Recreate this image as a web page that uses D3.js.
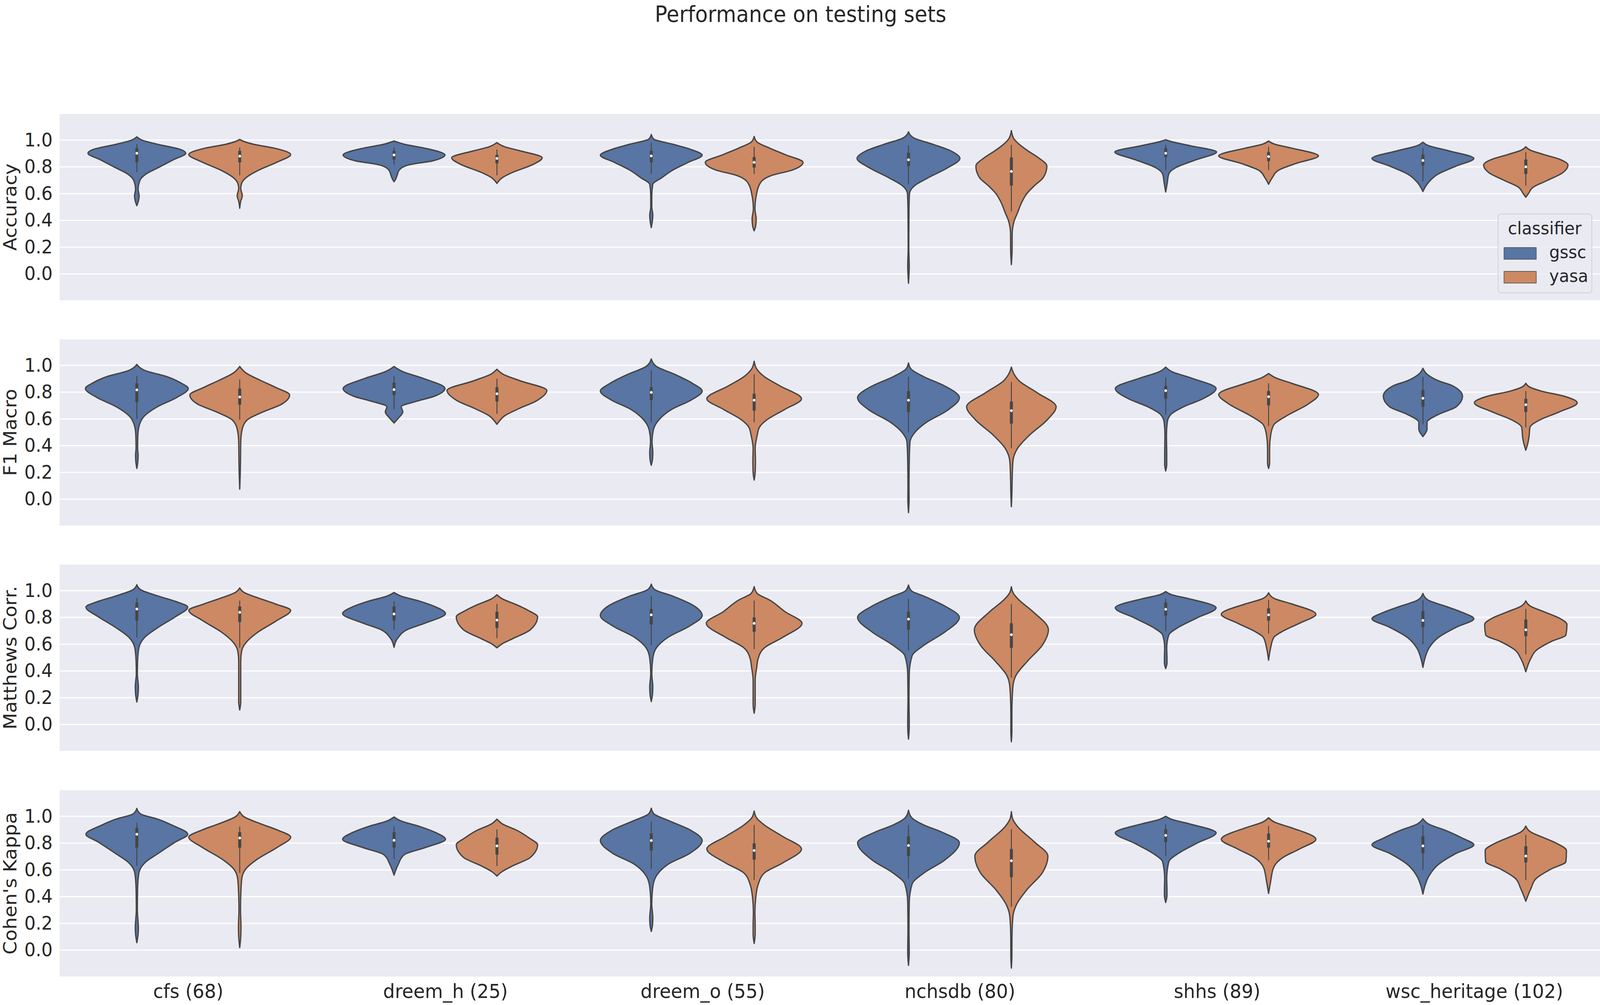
<!DOCTYPE html>
<html>
<head>
<meta charset="utf-8">
<script src="https://cdn.jsdelivr.net/npm/d3@7/dist/d3.min.js"></script>
<style>
  html, body { margin: 0; padding: 0; background: #ffffff; width: 100vw; height: 100vh; overflow: hidden; }
  #chart { display: block; width: 100vw; height: 100vh; }
  text { font-family: "DejaVu Sans", sans-serif; fill: #262626; }
</style>
</head>
<body>
<svg id="chart" viewBox="0 0 4317 2574" preserveAspectRatio="none"></svg>
<script>
// ---------------- DATA ----------------
const categories = ["cfs (68)", "dreem_h (25)", "dreem_o (55)", "nchsdb (80)", "shhs (89)", "wsc_heritage (102)"];
const classifiers = ["gssc", "yasa"];
const metrics = ["Accuracy", "F1 Macro", "Matthews Corr.", "Cohen's Kappa"];
const yTicks = [0.0, 0.2, 0.4, 0.6, 0.8, 1.0];
const chartTitle = "Performance on testing sets";
const legendTitle = "classifier";

// Violin outlines: [value, relative half-width]; order per dataset: gssc, yasa
const accuracyShapes = [
  [[0.51,0],[0.545,0.03],[0.583,0.045],[0.631,0.025],[0.699,0.06],[0.747,0.18],[0.795,0.42],[0.853,0.71],[0.902,0.95],[0.93,0.85],[0.969,0.40],[1.0,0.10],[1.024,0]],
  [[0.491,0],[0.544,0.02],[0.583,0.05],[0.64,0.02],[0.68,0.04],[0.718,0.12],[0.776,0.37],[0.834,0.72],[0.892,0.99],[0.94,0.67],[0.969,0.27],[0.99,0.08],[1.005,0]],
  [[0.689,0],[0.70,0.02],[0.737,0.06],[0.776,0.1],[0.816,0.3],[0.845,0.75],[0.889,0.99],[0.94,0.59],[0.969,0.2],[0.993,0]],
  [[0.676,0],[0.718,0.1],[0.758,0.3],[0.816,0.69],[0.868,0.88],[0.92,0.45],[0.95,0.15],[0.981,0]],
  [[0.346,0],[0.39,0.02],[0.44,0.03],[0.5,0.01],[0.583,0.01],[0.67,0.03],[0.718,0.2],[0.776,0.42],[0.834,0.72],[0.887,0.99],[0.93,0.77],[0.969,0.42],[1.007,0.05],[1.042,0]],
  [[0.322,0],[0.36,0.03],[0.41,0.04],[0.486,0.015],[0.583,0.04],[0.68,0.12],[0.737,0.35],[0.776,0.74],[0.834,0.95],[0.892,0.6],[0.94,0.3],[0.988,0.05],[1.027,0]],
  [[-0.07,0],[0.0,0.01],[0.05,0.015],[0.196,0.006],[0.483,0.01],[0.6,0.02],[0.66,0.12],[0.718,0.38],[0.795,0.77],[0.863,1.0],[0.92,0.82],[0.969,0.47],[1.017,0.1],[1.061,0]],
  [[0.07,0],[0.196,0.015],[0.29,0.015],[0.39,0.05],[0.457,0.12],[0.534,0.2],[0.6,0.3],[0.66,0.45],[0.72,0.62],[0.805,0.69],[0.87,0.52],[0.92,0.32],[0.969,0.15],[1.01,0.05],[1.07,0]],
  [[0.612,0],[0.68,0.03],[0.747,0.06],[0.795,0.2],[0.853,0.59],[0.911,0.99],[0.96,0.45],[0.99,0.1],[1.003,0]],
  [[0.67,0],[0.718,0.07],[0.776,0.2],[0.824,0.52],[0.882,0.97],[0.94,0.45],[0.969,0.12],[0.993,0]],
  [[0.616,0],[0.68,0.1],[0.747,0.3],[0.805,0.64],[0.863,0.99],[0.92,0.5],[0.96,0.1],[0.984,0]],
  [[0.573,0],[0.6,0.05],[0.65,0.15],[0.699,0.42],[0.757,0.72],[0.814,0.82],[0.855,0.67],[0.892,0.35],[0.926,0.08],[0.95,0]]
];
const f1Shapes = [
  [[0.23,0],[0.283,0.02],[0.33,0.025],[0.38,0.015],[0.478,0.02],[0.555,0.05],[0.623,0.15],[0.691,0.4],[0.759,0.77],[0.827,1.0],[0.87,0.85],[0.915,0.59],[0.963,0.15],[1.007,0]],
  [[0.075,0],[0.186,0.01],[0.283,0.015],[0.429,0.02],[0.526,0.05],[0.594,0.15],[0.652,0.45],[0.711,0.82],[0.779,0.97],[0.835,0.7],[0.885,0.42],[0.944,0.12],[0.992,0]],
  [[0.57,0],[0.604,0.08],[0.652,0.17],[0.691,0.14],[0.73,0.42],[0.769,0.78],[0.827,0.99],[0.905,0.55],[0.953,0.17],[0.992,0]],
  [[0.56,0],[0.585,0.05],[0.623,0.15],[0.672,0.4],[0.74,0.79],[0.813,0.97],[0.885,0.45],[0.934,0.12],[0.971,0]],
  [[0.254,0],[0.30,0.025],[0.351,0.03],[0.429,0.015],[0.517,0.04],[0.594,0.15],[0.672,0.4],[0.74,0.77],[0.808,0.99],[0.866,0.8],[0.934,0.45],[0.992,0.1],[1.048,0]],
  [[0.143,0],[0.2,0.02],[0.283,0.025],[0.38,0.02],[0.478,0.06],[0.536,0.1],[0.594,0.25],[0.672,0.6],[0.75,0.92],[0.847,0.5],[0.915,0.2],[0.973,0.05],[1.031,0]],
  [[-0.1,0],[0.0,0.012],[0.089,0.01],[0.283,0.015],[0.429,0.03],[0.497,0.12],[0.575,0.35],[0.662,0.75],[0.759,0.99],[0.847,0.7],[0.915,0.3],[0.973,0.05],[1.018,0]],
  [[-0.056,0],[0.041,0.01],[0.138,0.015],[0.283,0.03],[0.38,0.12],[0.478,0.35],[0.594,0.7],[0.691,0.87],[0.796,0.5],[0.885,0.15],[0.944,0.04],[0.987,0]],
  [[0.211,0],[0.26,0.02],[0.332,0.02],[0.478,0.015],[0.575,0.03],[0.633,0.1],[0.691,0.35],[0.75,0.72],[0.827,0.98],[0.905,0.5],[0.953,0.12],[0.987,0]],
  [[0.23,0],[0.27,0.02],[0.303,0.02],[0.38,0.02],[0.478,0.04],[0.555,0.1],[0.623,0.35],[0.711,0.77],[0.783,0.97],[0.866,0.45],[0.905,0.15],[0.939,0]],
  [[0.468,0],[0.526,0.08],[0.575,0.08],[0.633,0.3],[0.691,0.65],[0.769,0.77],[0.847,0.58],[0.885,0.3],[0.934,0.08],[0.978,0]],
  [[0.366,0],[0.419,0.04],[0.458,0.06],[0.536,0.08],[0.594,0.28],[0.652,0.65],[0.72,1.0],[0.769,0.75],[0.808,0.3],[0.837,0.08],[0.866,0]]
];
const mccShapes = [
  [[0.168,0],[0.23,0.025],[0.282,0.03],[0.379,0.01],[0.476,0.015],[0.573,0.04],[0.65,0.15],[0.727,0.42],[0.805,0.75],[0.877,0.99],[0.92,0.75],[0.959,0.42],[1.008,0.07],[1.044,0]],
  [[0.108,0],[0.17,0.02],[0.234,0.02],[0.379,0.02],[0.476,0.02],[0.553,0.04],[0.611,0.12],[0.689,0.35],[0.776,0.72],[0.853,0.99],[0.9,0.7],[0.94,0.4],[0.988,0.08],[1.02,0]],
  [[0.577,0],[0.65,0.08],[0.708,0.25],[0.757,0.6],[0.829,1.0],[0.88,0.8],[0.921,0.5],[0.959,0.14],[0.986,0]],
  [[0.573,0],[0.602,0.1],[0.64,0.3],[0.708,0.65],[0.805,0.79],[0.85,0.62],[0.892,0.4],[0.94,0.1],[0.969,0]],
  [[0.171,0],[0.23,0.025],[0.282,0.03],[0.379,0.01],[0.495,0.03],[0.573,0.1],[0.65,0.32],[0.737,0.75],[0.814,0.99],[0.882,0.85],[0.959,0.42],[1.008,0.07],[1.049,0]],
  [[0.084,0],[0.15,0.02],[0.234,0.02],[0.33,0.02],[0.427,0.05],[0.495,0.08],[0.573,0.2],[0.65,0.55],[0.756,0.93],[0.843,0.6],[0.93,0.3],[0.979,0.06],[1.03,0]],
  [[-0.109,0],[-0.05,0.012],[0.012,0.015],[0.186,0.01],[0.379,0.015],[0.513,0.07],[0.592,0.3],[0.689,0.7],[0.8,0.99],[0.882,0.72],[0.959,0.3],[0.998,0.06],[1.042,0]],
  [[-0.129,0],[-0.05,0.01],[0.089,0.01],[0.282,0.03],[0.36,0.08],[0.476,0.32],[0.592,0.6],[0.708,0.72],[0.843,0.42],[0.93,0.15],[0.979,0.04],[1.029,0]],
  [[0.418,0],[0.46,0.025],[0.495,0.025],[0.573,0.02],[0.669,0.06],[0.727,0.25],[0.795,0.6],[0.872,0.98],[0.94,0.45],[0.969,0.12],[0.993,0]],
  [[0.481,0],[0.573,0.04],[0.65,0.1],[0.698,0.28],[0.756,0.6],[0.824,0.92],[0.901,0.45],[0.94,0.12],[0.984,0]],
  [[0.427,0],[0.495,0.04],[0.573,0.12],[0.65,0.3],[0.727,0.65],[0.79,0.99],[0.84,0.75],[0.882,0.45],[0.93,0.1],[0.979,0]],
  [[0.394,0],[0.495,0.1],[0.553,0.2],[0.621,0.5],[0.669,0.78],[0.747,0.8],[0.795,0.65],[0.843,0.35],[0.882,0.1],[0.923,0]]
];
const kappaShapes = [
  [[0.056,0],[0.12,0.025],[0.166,0.03],[0.303,0.01],[0.461,0.015],[0.577,0.04],[0.651,0.15],[0.724,0.42],[0.808,0.75],[0.866,0.99],[0.935,0.68],[0.977,0.42],[1.019,0.07],[1.059,0]],
  [[0.019,0],[0.1,0.02],[0.177,0.025],[0.303,0.015],[0.408,0.02],[0.535,0.04],[0.608,0.12],[0.682,0.35],[0.766,0.72],[0.845,0.99],[0.9,0.72],[0.945,0.4],[0.998,0.08],[1.035,0]],
  [[0.561,0],[0.64,0.08],[0.714,0.2],[0.766,0.6],[0.829,1.0],[0.88,0.8],[0.924,0.5],[0.966,0.13],[0.995,0]],
  [[0.554,0],[0.587,0.1],[0.629,0.3],[0.693,0.65],[0.787,0.79],[0.84,0.62],[0.893,0.4],[0.945,0.1],[0.979,0]],
  [[0.14,0],[0.19,0.025],[0.24,0.03],[0.345,0.01],[0.472,0.03],[0.556,0.1],[0.64,0.32],[0.724,0.75],[0.819,0.99],[0.893,0.78],[0.966,0.35],[1.019,0.05],[1.061,0]],
  [[0.05,0],[0.12,0.02],[0.187,0.02],[0.282,0.015],[0.387,0.03],[0.493,0.08],[0.577,0.2],[0.651,0.55],[0.756,0.92],[0.851,0.55],[0.935,0.2],[0.987,0.05],[1.04,0]],
  [[-0.113,0],[-0.05,0.012],[-0.013,0.015],[0.145,0.01],[0.356,0.015],[0.493,0.07],[0.577,0.3],[0.672,0.7],[0.803,0.99],[0.882,0.65],[0.935,0.3],[0.987,0.07],[1.045,0]],
  [[-0.134,0],[-0.05,0.01],[0.093,0.012],[0.251,0.03],[0.324,0.08],[0.451,0.3],[0.577,0.6],[0.703,0.71],[0.808,0.45],[0.924,0.12],[0.977,0.03],[1.035,0]],
  [[0.356,0],[0.41,0.025],[0.451,0.025],[0.535,0.02],[0.661,0.06],[0.724,0.25],[0.798,0.6],[0.877,0.98],[0.945,0.45],[0.977,0.12],[1.0,0]],
  [[0.424,0],[0.514,0.04],[0.619,0.1],[0.693,0.28],[0.756,0.6],[0.829,0.92],[0.914,0.45],[0.956,0.12],[0.989,0]],
  [[0.419,0],[0.482,0.04],[0.556,0.12],[0.64,0.3],[0.724,0.65],[0.787,0.99],[0.84,0.75],[0.893,0.45],[0.945,0.1],[0.982,0]],
  [[0.366,0],[0.461,0.1],[0.535,0.2],[0.608,0.5],[0.661,0.78],[0.745,0.79],[0.798,0.6],[0.84,0.35],[0.882,0.1],[0.927,0]]
];

// Inner boxes: [whisker low, q1, median, q3, whisker high]
const accuracyBoxes = [
  [0.76,0.834,0.902,0.94,0.97],[0.737,0.834,0.88,0.92,0.945],
  [0.816,0.855,0.889,0.92,0.945],[0.737,0.826,0.863,0.89,0.93],
  [0.747,0.834,0.882,0.92,0.979],[0.747,0.795,0.834,0.873,0.95],
  [0.67,0.805,0.853,0.906,0.959],[0.467,0.66,0.766,0.87,0.964],
  [0.776,0.873,0.902,0.94,0.964],[0.776,0.843,0.877,0.911,0.95],
  [0.69,0.81,0.848,0.892,0.94],[0.66,0.747,0.8,0.855,0.911]
];
const f1Boxes = [
  [0.60,0.725,0.817,0.866,0.92],[0.594,0.706,0.764,0.827,0.895],
  [0.672,0.779,0.819,0.871,0.919],[0.638,0.73,0.788,0.837,0.9],
  [0.575,0.74,0.798,0.837,0.963],[0.575,0.662,0.74,0.788,0.934],
  [0.497,0.652,0.74,0.808,0.915],[0.38,0.565,0.662,0.73,0.876],
  [0.633,0.75,0.811,0.847,0.91],[0.546,0.701,0.766,0.808,0.866],
  [0.56,0.691,0.754,0.817,0.915],[0.536,0.652,0.706,0.75,0.808]
];
const mccBoxes = [
  [0.65,0.776,0.863,0.911,0.945],[0.573,0.766,0.838,0.882,0.926],
  [0.708,0.776,0.826,0.882,0.921],[0.645,0.722,0.78,0.843,0.901],
  [0.592,0.747,0.819,0.863,0.959],[0.563,0.693,0.756,0.8,0.926],
  [0.553,0.708,0.787,0.843,0.94],[0.35,0.573,0.671,0.756,0.901],
  [0.698,0.814,0.861,0.911,0.94],[0.679,0.776,0.819,0.868,0.93],
  [0.602,0.727,0.778,0.847,0.93],[0.524,0.66,0.708,0.785,0.863]
];
const kappaBoxes = [
  [0.629,0.766,0.866,0.914,0.951],[0.577,0.766,0.838,0.882,0.924],
  [0.682,0.766,0.821,0.882,0.924],[0.629,0.714,0.779,0.84,0.903],
  [0.608,0.745,0.819,0.872,0.961],[0.524,0.677,0.745,0.798,0.935],
  [0.535,0.703,0.782,0.851,0.935],[0.324,0.545,0.668,0.756,0.903],
  [0.703,0.808,0.858,0.903,0.94],[0.672,0.766,0.814,0.872,0.929],
  [0.598,0.724,0.779,0.851,0.935],[0.524,0.656,0.703,0.777,0.861]
];

const metricShapes = [accuracyShapes, f1Shapes, mccShapes, kappaShapes];
const metricBoxes = [accuracyBoxes, f1Boxes, mccBoxes, kappaBoxes];

// ---------------- STYLE / LAYOUT ----------------
const W = 4317, H = 2574;
const colors = ["#5875A3", "#CC8963"];
const edgeColor = "#454545";
const panelBg = "#EAEAF2";
const axLeft = 161, axRight = 4325;
const panelTops = [292, 869, 1446, 2024];
const panelH = 477;
const lw = 3.5;

const svg = d3.select("#chart");
svg.append("rect").attr("width", W).attr("height", H).attr("fill", "#ffffff");

const x = d3.scaleBand().domain(categories).range([axLeft, axRight]).paddingInner(0).paddingOuter(0);
const hue = d3.scaleBand().domain(classifiers).range([0.1 * x.bandwidth(), 0.9 * x.bandwidth()]);
const halfMax = hue.bandwidth() / 2;
const wScale = d3.scaleLinear().domain([0, 1]).range([0, halfMax]);

svg.append("defs").append("clipPath").attr("id", "figclip")
  .append("rect").attr("x", 0).attr("y", 0).attr("width", W).attr("height", H);

// title
svg.append("text").attr("x", 2160).attr("y", 56).attr("text-anchor", "middle")
  .style("font-size", "56px").text(chartTitle);

metrics.forEach((metric, mi) => {
  const top = panelTops[mi];
  const y = d3.scaleLinear().domain([-0.197, 1.195]).range([top + panelH, top]);
  const g = svg.append("g").attr("clip-path", "url(#figclip)");

  g.append("rect").attr("x", axLeft).attr("y", top).attr("width", axRight - axLeft).attr("height", panelH)
    .attr("fill", panelBg);

  // gridlines
  g.selectAll("line.grid").data(yTicks).enter().append("line")
    .attr("x1", axLeft).attr("x2", axRight)
    .attr("y1", d => y(d)).attr("y2", d => y(d))
    .attr("stroke", "#ffffff").attr("stroke-width", 3);

  // y axis
  const yAxis = d3.axisLeft(y).tickValues(yTicks).tickFormat(d3.format(".1f")).tickSize(0).tickPadding(19);
  const ya = svg.append("g").attr("transform", `translate(${axLeft},0)`).call(yAxis);
  ya.select(".domain").remove();
  ya.selectAll("text").style("font-size", "48px").style("font-family", "DejaVu Sans").attr("fill", "#262626");

  // y label
  svg.append("text")
    .attr("transform", `translate(44,${top + panelH / 2}) rotate(-90)`)
    .attr("text-anchor", "middle").style("font-size", "49px").text(metric);

  // violins
  const shapes = metricShapes[mi], boxes = metricBoxes[mi];
  categories.forEach((cat, ci) => {
    classifiers.forEach((cl, hi) => {
      const idx = ci * 2 + hi;
      const cx = x(cat) + hue(cl) + hue.bandwidth() / 2;
      const knots = shapes[idx];
      const area = d3.area()
        .y(d => y(d[0]))
        .x0(d => cx - wScale(d[1]))
        .x1(d => cx + wScale(d[1]))
        .curve(d3.curveMonotoneY);
      g.append("path").datum(knots).attr("d", area)
        .attr("fill", colors[hi]).attr("stroke", edgeColor).attr("stroke-width", lw)
        .attr("stroke-linejoin", "round");
      const b = boxes[idx];
      g.append("line").attr("x1", cx).attr("x2", cx).attr("y1", y(b[0])).attr("y2", y(b[4]))
        .attr("stroke", edgeColor).attr("stroke-width", 2.5);
      g.append("line").attr("x1", cx).attr("x2", cx).attr("y1", y(b[1])).attr("y2", y(b[3]))
        .attr("stroke", edgeColor).attr("stroke-width", 8);
      g.append("circle").attr("cx", cx).attr("cy", y(b[2])).attr("r", 3.5).attr("fill", "#ffffff");
    });
  });

  // x axis on bottom panel only
  if (mi === metrics.length - 1) {
    const xa = svg.append("g").attr("transform", `translate(0,${top + panelH})`)
      .call(d3.axisBottom(x).tickSize(0).tickPadding(20));
    xa.select(".domain").remove();
    xa.selectAll("text").style("font-size", "50px").style("font-family", "DejaVu Sans").attr("fill", "#262626");
  }

  // legend on top panel
  if (mi === 0) {
    const lg = svg.append("g");
    lg.append("rect").attr("x", 4042).attr("y", 548).attr("width", 253).attr("height", 202)
      .attr("rx", 8).attr("ry", 8).attr("fill", panelBg).attr("fill-opacity", 0.8)
      .attr("stroke", "#cfcfd6").attr("stroke-width", 2);
    lg.append("text").attr("x", 4168).attr("y", 600).attr("text-anchor", "middle")
      .style("font-size", "45px").text(legendTitle);
    const ly = d3.scalePoint().domain(classifiers).range([634, 695]);
    classifiers.forEach((cl, hi) => {
      lg.append("rect").attr("x", 4058).attr("y", ly(cl)).attr("width", 87).attr("height", 30)
        .attr("fill", colors[hi]).attr("stroke", edgeColor).attr("stroke-width", 1.5);
      lg.append("text").attr("x", 4180).attr("y", ly(cl) + 27)
        .style("font-size", "45px").text(cl);
    });
  }
});
</script>
</body>
</html>
